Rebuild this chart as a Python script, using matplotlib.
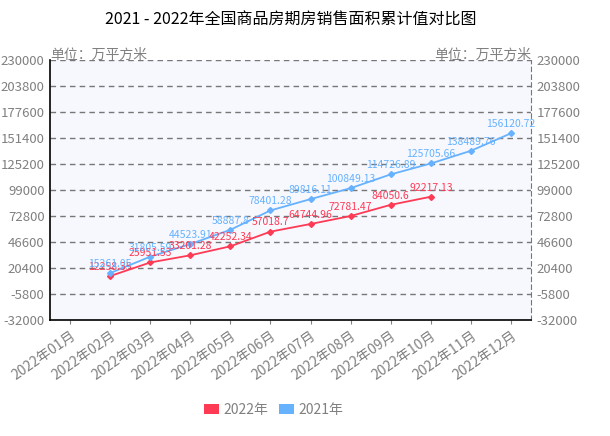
import numpy as np
import matplotlib
matplotlib.use("Agg")
from matplotlib import pyplot as plt
from matplotlib.patches import Patch

plt.rcParams['font.family'] = ['Noto Sans CJK SC', 'DejaVu Sans']

months = ['2022年%02d月' % m for m in range(1, 13)]
vals_2022 = [None, 12258.35, 25951.53, 33201.28, 42252.34, 57018.7,
             64744.96, 72781.47, 84050.6, 92217.13, None, None]
vals_2021 = [None, 15261.05, 31805.59, 44523.91, 58887.8, 78401.28,
             89816.11, 100849.13, 114726.89, 125705.66, 138489.76, 156120.72]
yticks = np.arange(-32000, 230001, 26200)

red = '#ff3a55'
blue = '#66b2ff'
gray = '#808080'

W, H = 610, 436
fig = plt.figure(figsize=(W / 100, H / 100), dpi=100)
ax = fig.add_axes([50 / W, 1 - 320 / H, (531 - 50) / W, 260 / H])
ax.set_facecolor('#f7f8fe')

x = np.arange(len(months))


def draw(vals, color):
    xs = [i for i, v in zip(x, vals) if v is not None]
    ys = [v for v in vals if v is not None]
    ax.plot(xs, ys, color=color, lw=1.3, marker='D', ms=3, zorder=3)
    for xi, yi in zip(xs, ys):
        ax.annotate(str(yi), (xi, yi), xytext=(0, 3), textcoords='offset points',
                    ha='center', va='bottom', fontsize=7.5, color=color, zorder=4)


draw(vals_2022, red)
draw(vals_2021, blue)

ax.set_xlim(-0.5, 11.5)
ax.set_ylim(-32000, 230000)
ax.set_yticks(yticks)
ax.set_yticklabels([str(v) for v in yticks])
for v in yticks[1:]:
    ax.axhline(v, color='#777777', lw=1, ls=(0, (4, 3)), zorder=1)

ax.set_xticks(x)
ax.set_xticklabels(months, rotation=35, ha='right', rotation_mode='anchor',
                   fontsize=10, color=gray)
ax.tick_params(axis='x', length=3, color=gray, pad=3)
ax.tick_params(axis='y', length=0, labelsize=9.5, labelcolor=gray,
               labelright=True, pad=4)

for side in ['left', 'bottom']:
    ax.spines[side].set_color('black')
    ax.spines[side].set_linewidth(1.2)
ax.spines['top'].set_visible(False)
ax.spines['right'].set_color('#777777')
ax.spines['right'].set_linestyle((0, (4, 3)))

fig.text(0.5 * (50 + 531) / W, 1 - 20 / H,
         '2021 - 2022年全国商品房期房销售面积累计值对比图',
         ha='center', va='center', fontsize=11.5, color='black')
fig.text(50 / W, 1 - 55 / H, '单位：万平方米', ha='left', va='center',
         fontsize=10, color=gray)
fig.text(531 / W, 1 - 55 / H, '单位：万平方米', ha='right', va='center',
         fontsize=10, color=gray)

handles = [Patch(facecolor=red, edgecolor='none', label='2022年'),
           Patch(facecolor=blue, edgecolor='none', label='2021年')]
leg = fig.legend(handles=handles, loc='center', ncol=2,
                 bbox_to_anchor=(273.5 / W, 1 - 410 / H), frameon=False,
                 fontsize=10, handlelength=1.1, handleheight=0.65,
                 handletextpad=0.3, columnspacing=0.8)
for t in leg.get_texts():
    t.set_color(gray)

fig.savefig('out.png', dpi=100)
